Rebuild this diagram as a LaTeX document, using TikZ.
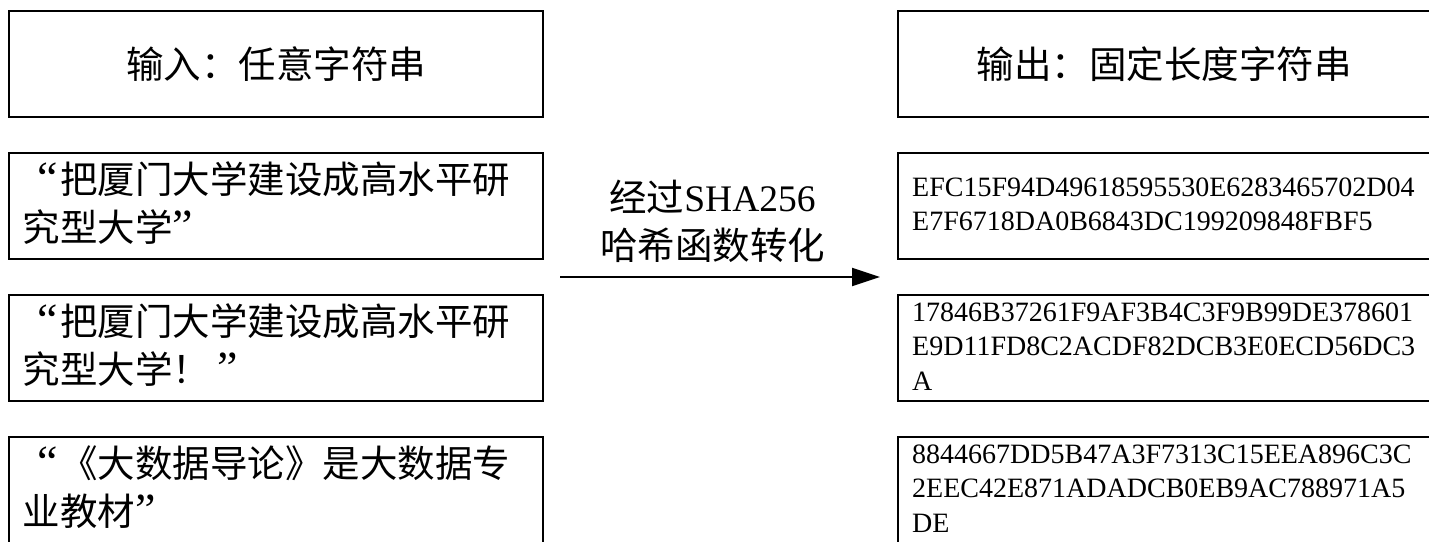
\documentclass[tikz,border=0pt]{standalone}
\usepackage{fontspec}
\setmainfont{Liberation Serif}
\newfontfamily\cjk{Noto Sans CJK SC}
\usetikzlibrary{arrows.meta}
\newcommand\qfont{\rmfamily\fontsize{46}{45}\selectfont}
\newcommand\oq{\makebox[37.5pt][r]{\qfont “\hspace{2pt}}}
\newcommand\cq{\makebox[37.5pt][l]{\qfont ”}}
\newcommand\cqs{\makebox[37.5pt][l]{\hspace{7pt}\qfont ”}}
\begin{document}
\begin{tikzpicture}[x=1pt,y=-1pt,
  box/.style={draw, line width=2pt, rectangle, inner sep=0pt, outer sep=0pt, anchor=north west, minimum height=106pt},
  lbox/.style={box, minimum width=534pt},
  rbox/.style={box, minimum width=560pt},
  cj/.style={font=\cjk\fontsize{37.5}{45}\selectfont, inner sep=0pt, anchor=base west},
  hx/.style={font=\rmfamily\fontsize{28}{34}\selectfont, inner sep=0pt, anchor=base west},
  conn/.style={line width=2pt, -{Triangle[length=28pt,width=18pt]}}
  ]
\useasboundingbox (0,0) rectangle (1429,541);
\clip (0,0) rectangle (1429,541);
% boxes
\node[lbox] (in0) at (9,11) {};
\node[lbox] (in1) at (9,153) {};
\node[lbox] (in2) at (9,295) {};
\node[lbox] (in3) at (9,437) {};
\node[rbox] (out0) at (898,11) {};
\node[rbox] (out1) at (898,153) {};
\node[rbox] (out2) at (898,295) {};
\node[rbox] (out3) at (898,437) {};
% headings
\node[cj, anchor=base] (inh) at (276,78) {输入：任意字符串};
\node[cj, anchor=base] (outh) at (1164,78) {输出：固定长度字符串};
% inputs
\node[cj] (in1a) at (22.5,193.4) {\oq 把厦门大学建设成高水平研};
\node[cj] (in1b) at (22.5,241.7) {究型大学\cq};
\node[cj] (in2a) at (22.5,335.4) {\oq 把厦门大学建设成高水平研};
\node[cj] (in2b) at (22.5,383.7) {究型大学！\cqs};
\node[cj] (in3a) at (22.5,477.4) {\oq 《大数据导论》是大数据专};
\node[cj] (in3b) at (22.5,525.7) {业教材\cq};
% outputs
\node[hx] (o1a) at (912,196) {EFC15F94D49618595530E6283465702D04};
\node[hx] (o1b) at (912,230.5) {E7F6718DA0B6843DC199209848FBF5};
\node[hx] (o2a) at (912,321) {17846B37261F9AF3B4C3F9B99DE378601};
\node[hx] (o2b) at (912,355.5) {E9D11FD8C2ACDF82DCB3E0ECD56DC3};
\node[hx] (o2c) at (912,390) {A};
\node[hx] (o3a) at (912,463) {8844667DD5B47A3F7313C15EEA896C3C};
\node[hx] (o3b) at (912,497.5) {2EEC42E871ADADCB0EB9AC788971A5};
\node[hx] (o3c) at (912,532) {DE};
% arrow
\node[cj, anchor=base] (l1) at (712.5,211.5) {经过{\rmfamily SHA256}};
\node[cj, anchor=base] (l2) at (712.5,259) {哈希函数转化};
\coordinate (as) at (560,277);
\coordinate (ae) at (880,277);
\draw[conn] (as) -- (ae);
\end{tikzpicture}
\end{document}
